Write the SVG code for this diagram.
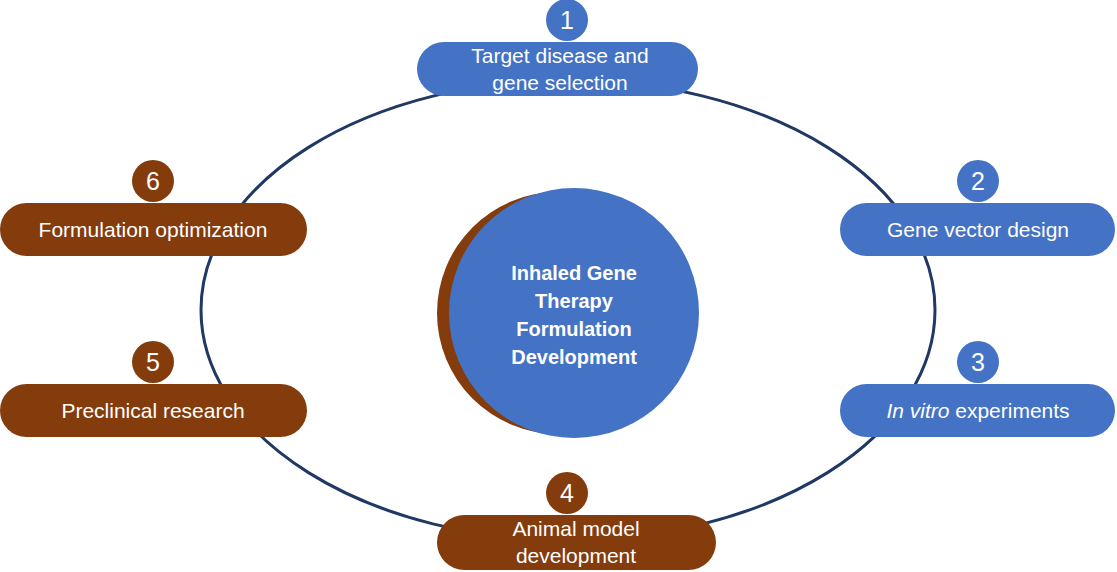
<svg xmlns="http://www.w3.org/2000/svg" width="1117" height="572" viewBox="0 0 1117 572">
<style>
text{font-family:"Liberation Sans",Arial,sans-serif;fill:#fff;text-anchor:middle}
.t{font-size:21px}
.n{font-size:25px}
.b{fill:#4472C4}
.r{fill:#843C0C}
</style>
<rect width="1117" height="572" fill="#fff"/>
<g id="connectors"><ellipse cx="568" cy="310" rx="367" ry="230" fill="none" stroke="#1F3864" stroke-width="3"/></g>
<g id="center">
<circle cx="558" cy="313" r="121" class="r"/>
<circle cx="574" cy="313" r="125" class="b"/>
<text font-weight="bold" font-size="20"><tspan x="574" y="280">Inhaled Gene</tspan><tspan x="574" y="308">Therapy</tspan><tspan x="574" y="336">Formulation</tspan><tspan x="574" y="364">Development</tspan></text>
</g>
<g id="n1"><rect x="417" y="42" width="281" height="54" rx="27" class="b"/><circle cx="567" cy="20" r="21" class="b"/><text x="567" y="29" class="n">1</text><text class="t"><tspan x="560" y="63">Target disease and</tspan><tspan x="560" y="90">gene selection</tspan></text></g>
<g id="n2"><rect x="840" y="203" width="275" height="53" rx="26.5" class="b"/><circle cx="978" cy="181" r="21" class="b"/><text x="978" y="190" class="n">2</text><text x="978" y="237" class="t">Gene vector design</text></g>
<g id="n3"><rect x="840" y="384" width="275" height="53" rx="26.5" class="b"/><circle cx="978" cy="362" r="21" class="b"/><text x="978" y="371" class="n">3</text><text x="978" y="418" class="t"><tspan font-style="italic">In vitro</tspan> experiments</text></g>
<g id="n4"><rect x="437" y="515" width="279" height="55" rx="27.5" class="r"/><circle cx="567" cy="493" r="21" class="r"/><text x="567" y="502" class="n">4</text><text class="t"><tspan x="576" y="536">Animal model</tspan><tspan x="576" y="563">development</tspan></text></g>
<g id="n5"><rect x="0" y="384" width="307" height="53" rx="26.5" class="r"/><circle cx="153" cy="362" r="21" class="r"/><text x="153" y="371" class="n">5</text><text x="153" y="418" class="t">Preclinical research</text></g>
<g id="n6"><rect x="0" y="203" width="307" height="53" rx="26.5" class="r"/><circle cx="153" cy="181" r="21" class="r"/><text x="153" y="190" class="n">6</text><text x="153" y="237" class="t">Formulation optimization</text></g>
</svg>
